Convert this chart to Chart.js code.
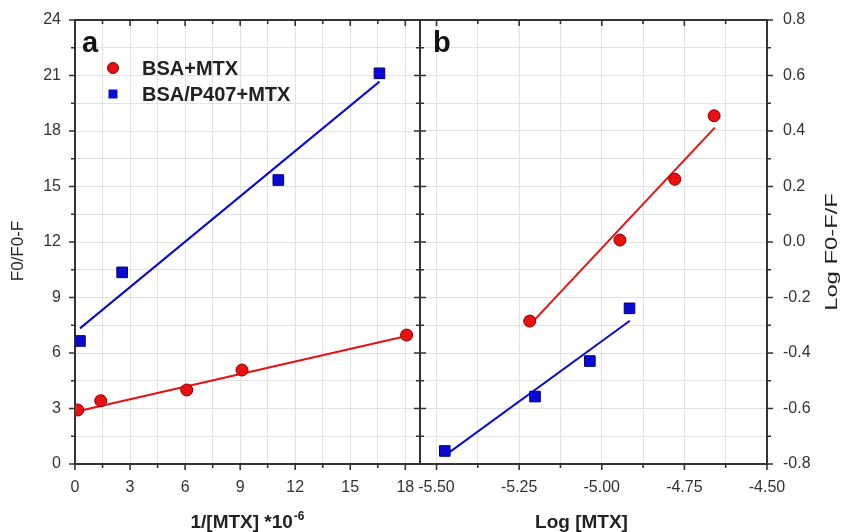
<!DOCTYPE html>
<html>
<head>
<meta charset="utf-8">
<script src="https://cdn.jsdelivr.net/npm/chart.js@4.4.1/dist/chart.umd.min.js"></script>
<style>
  body { margin: 0; background: #fff; }
  #wrap { position: relative; width: 844px; height: 532px; }
  canvas { position: absolute; top: 0; }
  #chartA { left: 0; }
  #chartB { left: 400px; }
</style>
</head>
<body>
<div id="wrap">
  <canvas id="chartA" width="430" height="532"></canvas>
  <canvas id="chartB" width="444" height="532"></canvas>
</div>
<script>
// Panel a: F0/F0-F against 1/[MTX]
const bsaInvX = [0.15, 1.40, 6.09, 9.10, 18.07];
const bsaInvY = [2.92, 3.42, 4.00, 5.08, 6.97];
const p407InvX = [0.27, 2.57, 11.08, 16.59];
const p407InvY = [6.65, 10.36, 15.35, 21.12];
// fitted lines (end points)
const bsaInvFitX = [0.15, 18.07];
const bsaInvFitY = [2.85, 6.92];
const p407InvFitX = [0.27, 16.59];
const p407InvFitY = [7.33, 20.67];

// Panel b: Log F0-F/F against Log [MTX]
const bsaLogX = [-5.218, -4.945, -4.779, -4.660];
const bsaLogY = [-0.285, 0.007, 0.226, 0.455];
const p407LogX = [-5.475, -5.202, -5.036, -4.916];
const p407LogY = [-0.753, -0.557, -0.429, -0.239];
const bsaLogFitX = [-5.215, -4.658];
const bsaLogFitY = [-0.295, 0.412];
const p407LogFitX = [-5.473, -4.915];
const p407LogFitY = [-0.768, -0.284];

// ticks (every tick gets a grid line, the labelled ones are major)
const xTicksA = [0, 1.5, 3, 4.5, 6, 7.5, 9, 10.5, 12, 13.5, 15, 16.5, 18];
const xLabelsA = [0, 3, 6, 9, 12, 15, 18];
const yTicksA = [0, 1.5, 3, 4.5, 6, 7.5, 9, 10.5, 12, 13.5, 15, 16.5, 18, 19.5, 21, 22.5, 24];
const yLabelsA = [0, 3, 6, 9, 12, 15, 18, 21, 24];
const xTicksB = [-5.5, -5.375, -5.25, -5.125, -5.0, -4.875, -4.75, -4.625, -4.5];
const xLabelsB = [-5.5, -5.25, -5.0, -4.75, -4.5];
const yTicksB = [-0.8, -0.7, -0.6, -0.5, -0.4, -0.3, -0.2, -0.1, 0, 0.1, 0.2, 0.3, 0.4, 0.5, 0.6, 0.7, 0.8];
const yLabelsB = [-0.8, -0.6, -0.4, -0.2, 0, 0.2, 0.4, 0.6, 0.8];

const RED = '#e81010';
const RED_EDGE = '#8a0000';
const BLUE = '#0a0ad2';
const BLUE_EDGE = '#000080';
const INK = '#333';
const FONT = '"Liberation Sans", Arial, sans-serif';

Chart.defaults.font.family = FONT;
Chart.defaults.color = INK;

function pts(xs, ys) {
  return xs.map((x, i) => ({ x: x, y: ys[i] }));
}

function isIn(v, list) {
  return list.some(l => Math.abs(l - v) < 1e-6);
}

// frame with inward/outward tick marks, axis titles, panel letter and legend
const framePlugin = {
  id: 'frame',
  beforeDatasetsDraw(chart, args, opts) {
    const { ctx, chartArea: a, scales } = chart;
    ctx.save();
    ctx.strokeStyle = INK;
    ctx.lineWidth = 2;
    ctx.strokeRect(a.left, a.top, a.right - a.left, a.bottom - a.top);
    ctx.lineWidth = 1.6;
    ctx.beginPath();
    scales.x.ticks.forEach(t => {
      const px = scales.x.getPixelForValue(t.value);
      const len = isIn(t.value, opts.xMajor) ? 6 : 4;
      ctx.moveTo(px, a.bottom); ctx.lineTo(px, a.bottom + len);
      ctx.moveTo(px, a.top); ctx.lineTo(px, a.top + len);
    });
    const dir = opts.ySide === 'left' ? -1 : 1;
    const outX = opts.ySide === 'left' ? a.left : a.right;
    const inX = opts.ySide === 'left' ? a.right : a.left;
    scales.y.ticks.forEach(t => {
      const py = scales.y.getPixelForValue(t.value);
      const len = isIn(t.value, opts.yMajor) ? 6 : 4;
      ctx.moveTo(outX, py); ctx.lineTo(outX + dir * len, py);
      ctx.moveTo(inX, py); ctx.lineTo(inX + dir * len, py);
    });
    ctx.stroke();

    // x title (with optional superscript)
    ctx.fillStyle = '#222';
    ctx.textAlign = 'left';
    ctx.textBaseline = 'alphabetic';
    ctx.font = 'bold 19px ' + FONT;
    const w1 = ctx.measureText(opts.xTitle).width;
    let w2 = 0;
    if (opts.xSup) {
      ctx.font = 'bold 12px ' + FONT;
      w2 = ctx.measureText(opts.xSup).width + 1;
    }
    const x0 = (a.left + a.right) / 2 + opts.xTitleDx - (w1 + w2) / 2;
    ctx.font = 'bold 19px ' + FONT;
    ctx.fillText(opts.xTitle, x0, a.bottom + 64);
    if (opts.xSup) {
      ctx.font = 'bold 12px ' + FONT;
      ctx.fillText(opts.xSup, x0 + w1 + 1, a.bottom + 56);
    }

    // y title, rotated
    ctx.save();
    ctx.translate(opts.ySide === 'left' ? a.left + opts.yTitleDx : a.right + opts.yTitleDx,
                  (a.top + a.bottom) / 2 + opts.yTitleDy);
    ctx.rotate(-Math.PI / 2);
    ctx.scale(opts.yStretch, 1);
    ctx.font = '17px ' + FONT;
    ctx.textAlign = 'center';
    ctx.textBaseline = 'middle';
    ctx.fillText(opts.yTitle, 0, 0);
    ctx.restore();
    ctx.restore();
  },
  afterDatasetsDraw(chart, args, opts) {
    const { ctx, chartArea: a } = chart;
    ctx.save();
    ctx.fillStyle = '#111';
    ctx.font = 'bold 29px ' + FONT;
    ctx.textBaseline = 'alphabetic';
    ctx.fillText(opts.letter, a.left + opts.letterDx, a.top + 32);
    if (opts.legend) {
      ctx.font = 'bold 20px ' + FONT;
      ctx.textBaseline = 'middle';
      const lx = a.left + 38;
      ctx.beginPath();
      ctx.arc(lx, a.top + 48, 5.5, 0, Math.PI * 2);
      ctx.fillStyle = RED; ctx.fill();
      ctx.strokeStyle = RED_EDGE; ctx.lineWidth = 1; ctx.stroke();
      ctx.fillStyle = '#222';
      ctx.fillText('BSA+MTX', a.left + 67, a.top + 49);
      ctx.fillStyle = BLUE;
      ctx.fillRect(lx - 4.5, a.top + 74 - 4.5, 9, 9);
      ctx.fillStyle = '#222';
      ctx.fillText('BSA/P407+MTX', a.left + 67, a.top + 75);
    }
    ctx.restore();
  }
};

function scatterSet(xs, ys, color, edge, style, radius) {
  return {
    type: 'scatter',
    data: pts(xs, ys),
    pointStyle: style,
    pointRadius: radius,
    pointBackgroundColor: color,
    pointBorderColor: edge,
    pointBorderWidth: 1,
    showLine: false,
    order: 1
  };
}

function fitSet(xs, ys, color) {
  return {
    type: 'line',
    data: pts(xs, ys),
    borderColor: color,
    borderWidth: 2,
    pointRadius: 0,
    fill: false,
    order: 2
  };
}

function makeAxis(opts) {
  return {
    type: 'linear',
    position: opts.position,
    min: opts.min,
    max: opts.max,
    afterBuildTicks: s => { s.ticks = opts.ticks.map(v => ({ value: v })); },
    afterFit: s => {
      // fixed box sizes so both panels line up; drop label overhang padding
      if (opts.width) { s.width = opts.width; s.paddingTop = 0; s.paddingBottom = 0; }
      if (opts.height) { s.height = opts.height; s.paddingLeft = 0; s.paddingRight = 0; }
    },
    grid: { color: '#e2e2e2', lineWidth: 1, drawTicks: false },
    border: { display: false },
    ticks: {
      padding: opts.padding,
      font: { size: 16 },
      color: INK,
      autoSkip: false,
      maxRotation: 0,
      callback: v => isIn(v, opts.labels) ? opts.fmt(v) : ''
    },
    title: { display: false }
  };
}

const common = {
  responsive: false,
  animation: false,
  events: [],
  plugins: { legend: { display: false }, tooltip: { enabled: false } }
};

new Chart(document.getElementById('chartA'), {
  data: {
    datasets: [
      scatterSet(bsaInvX, bsaInvY, RED, RED_EDGE, 'circle', 6),
      scatterSet(p407InvX, p407InvY, BLUE, BLUE_EDGE, 'rect', 7.5),
      fitSet(bsaInvFitX, bsaInvFitY, RED),
      fitSet(p407InvFitX, p407InvFitY, BLUE)
    ]
  },
  options: Object.assign({}, common, {
    layout: { padding: { left: 0, top: 20, right: 10, bottom: 0 } },
    plugins: Object.assign({}, common.plugins, {
      frame: {
        xMajor: xLabelsA, yMajor: yLabelsA, ySide: 'left', letter: 'a', letterDx: 7, legend: true,
        xTitle: '1/[MTX] *10', xSup: '-6', xTitleDx: 0,
        yTitle: 'F0/F0-F', yTitleDx: -57, yTitleDy: 9, yStretch: 1
      }
    }),
    scales: {
      x: makeAxis({ position: 'bottom', min: 0, max: 18.8, ticks: xTicksA, labels: xLabelsA,
        fmt: v => String(v), height: 68, padding: 14 }),
      y: makeAxis({ position: 'left', min: 0, max: 24, ticks: yTicksA, labels: yLabelsA,
        fmt: v => String(v), width: 75, padding: 14 })
    }
  }),
  plugins: [framePlugin]
});

new Chart(document.getElementById('chartB'), {
  data: {
    datasets: [
      scatterSet(bsaLogX, bsaLogY, RED, RED_EDGE, 'circle', 6),
      scatterSet(p407LogX, p407LogY, BLUE, BLUE_EDGE, 'rect', 7.5),
      fitSet(bsaLogFitX, bsaLogFitY, RED),
      fitSet(p407LogFitX, p407LogFitY, BLUE)
    ]
  },
  options: Object.assign({}, common, {
    layout: { padding: { left: 20, top: 20, right: 0, bottom: 0 } },
    plugins: Object.assign({}, common.plugins, {
      frame: {
        xMajor: xLabelsB, yMajor: yLabelsB, ySide: 'right', letter: 'b', letterDx: 13, legend: false,
        xTitle: 'Log [MTX]', xSup: '', xTitleDx: -12,
        yTitle: 'Log F0-F/F', yTitleDx: 65, yTitleDy: 10, yStretch: 1.4
      }
    }),
    scales: {
      x: makeAxis({ position: 'bottom', min: -5.55, max: -4.5, ticks: xTicksB, labels: xLabelsB,
        fmt: v => v.toFixed(2), height: 68, padding: 14 }),
      y: makeAxis({ position: 'right', min: -0.8, max: 0.8, ticks: yTicksB, labels: yLabelsB,
        fmt: v => v.toFixed(1), width: 77, padding: 16 })
    }
  }),
  plugins: [framePlugin]
});
</script>
</body>
</html>
